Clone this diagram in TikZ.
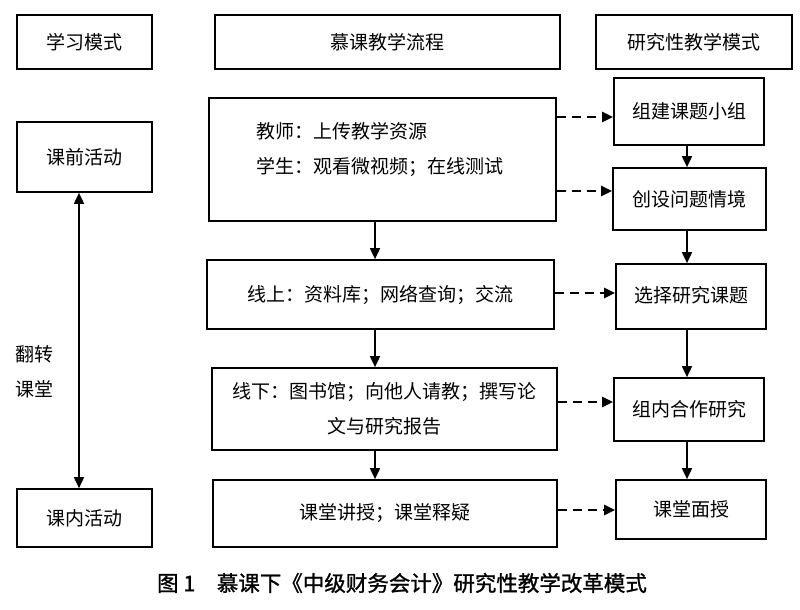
\documentclass[tikz,border=0pt]{standalone}
\usepackage{fontspec}
\setmainfont{Noto Sans CJK SC}
\newfontfamily\capfont[FakeBold=1.2]{Noto Sans CJK SC}
\usetikzlibrary{arrows.meta,calc}
\begin{document}
\begin{tikzpicture}[x=1pt,y=-1pt,
  box/.style={draw,line width=1.7pt,inner sep=0pt,font=\fontsize{19}{34.5}\selectfont},
  txt/.style={inner sep=0pt,font=\fontsize{19}{35}\selectfont},
  arr/.style={line width=1.7pt,-{Triangle[length=11pt,width=10pt]}},
  darr/.style={line width=2.2pt,dash pattern=on 9pt off 6pt,-{Triangle[length=11pt,width=10pt]}}]
\useasboundingbox (0,0) rectangle (800,610);
% headers
\node[box,minimum width=135pt,minimum height=54pt] (h1) at (84.5,42) {学习模式};
\node[box,minimum width=345pt,minimum height=54pt] (h2) at (387.5,42) {慕课教学流程};
\node[box,minimum width=196pt,minimum height=54pt] (h3) at (694,42) {研究性教学模式};
% left column
\node[box,minimum width=135pt,minimum height=70pt] (pre) at (84.5,157) {课前活动};
\node[box,minimum width=135pt,minimum height=58pt] (inc) at (84.5,518) {课内活动};
\node[txt,align=left,anchor=west] (flip) at (15,372) {翻转\\课堂};
% middle column
\node[box,minimum width=347pt,minimum height=123pt] (m1) at (382.5,159.5) {};
\node[txt,align=left,anchor=west] (m1t) at (256,149.5) {教师：上传教学资源\\学生：观看微视频；在线测试};
\node[box,minimum width=347pt,minimum height=69pt] (m2) at (380.5,294.5) {\raisebox{1.5pt}{线上：资料库；网络查询；交流}};
\node[box,minimum width=345pt,minimum height=82pt,align=center] (m3) at (384.5,409) {线下：图书馆；向他人请教；撰写论\\文与研究报告};
\node[box,minimum width=344pt,minimum height=67pt] (m4) at (385,513.5) {课堂讲授；课堂释疑};
% right column
\node[box,minimum width=150pt,minimum height=67pt] (r1) at (689,111.5) {组建课题小组};
\node[box,minimum width=153pt,minimum height=62pt] (r2) at (689.5,199) {创设问题情境};
\node[box,minimum width=150pt,minimum height=65pt] (r3) at (691,296.5) {\raisebox{4pt}{选择研究课题}};
\node[box,minimum width=150pt,minimum height=63pt] (r4) at (689,409.5) {组内合作研究};
\node[box,minimum width=150pt,minimum height=59pt] (r5) at (691,509.5) {课堂面授};
% caption
\node[txt,font=\fontsize{21.5}{26}\capfont] (cap) at (402,583) {图 1\hspace{1em}慕课下《中级财务会计》研究性教学改革模式};
% helper coordinates
\coordinate (lx) at (79,0);
\coordinate (cx) at (375,0);
\coordinate (rx) at (687,0);
% left double arrow
\draw[arr,{Triangle[length=11pt,width=10pt]}-{Triangle[length=11pt,width=10pt]}] (pre.south -| lx) -- (inc.north -| lx);
% middle arrows
\draw[arr] (m1.south -| cx) -- (m2.north -| cx);
\draw[arr] (m2.south -| cx) -- (m3.north -| cx);
\draw[arr] (m3.south -| cx) -- (m4.north -| cx);
% right arrows
\draw[arr] (r1.south -| rx) -- (r2.north -| rx);
\draw[arr] (r2.south -| rx) -- (r3.north -| rx);
\draw[arr] (r3.south -| rx) -- (r4.north -| rx);
\draw[arr] (r4.south -| rx) -- (r5.north -| rx);
% dashed arrows
\draw[darr] (m1.east |- 0,117) -- (r1.west |- 0,117);
\draw[darr] (m1.east |- 0,191) -- (r2.west |- 0,191);
\draw[darr] (m2.east |- 0,293) -- (r3.west |- 0,293);
\draw[darr] (m3.east |- 0,402) -- (r4.west |- 0,402);
\draw[darr] (m4.east |- 0,510) -- (r5.west |- 0,510);
\end{tikzpicture}
\end{document}
